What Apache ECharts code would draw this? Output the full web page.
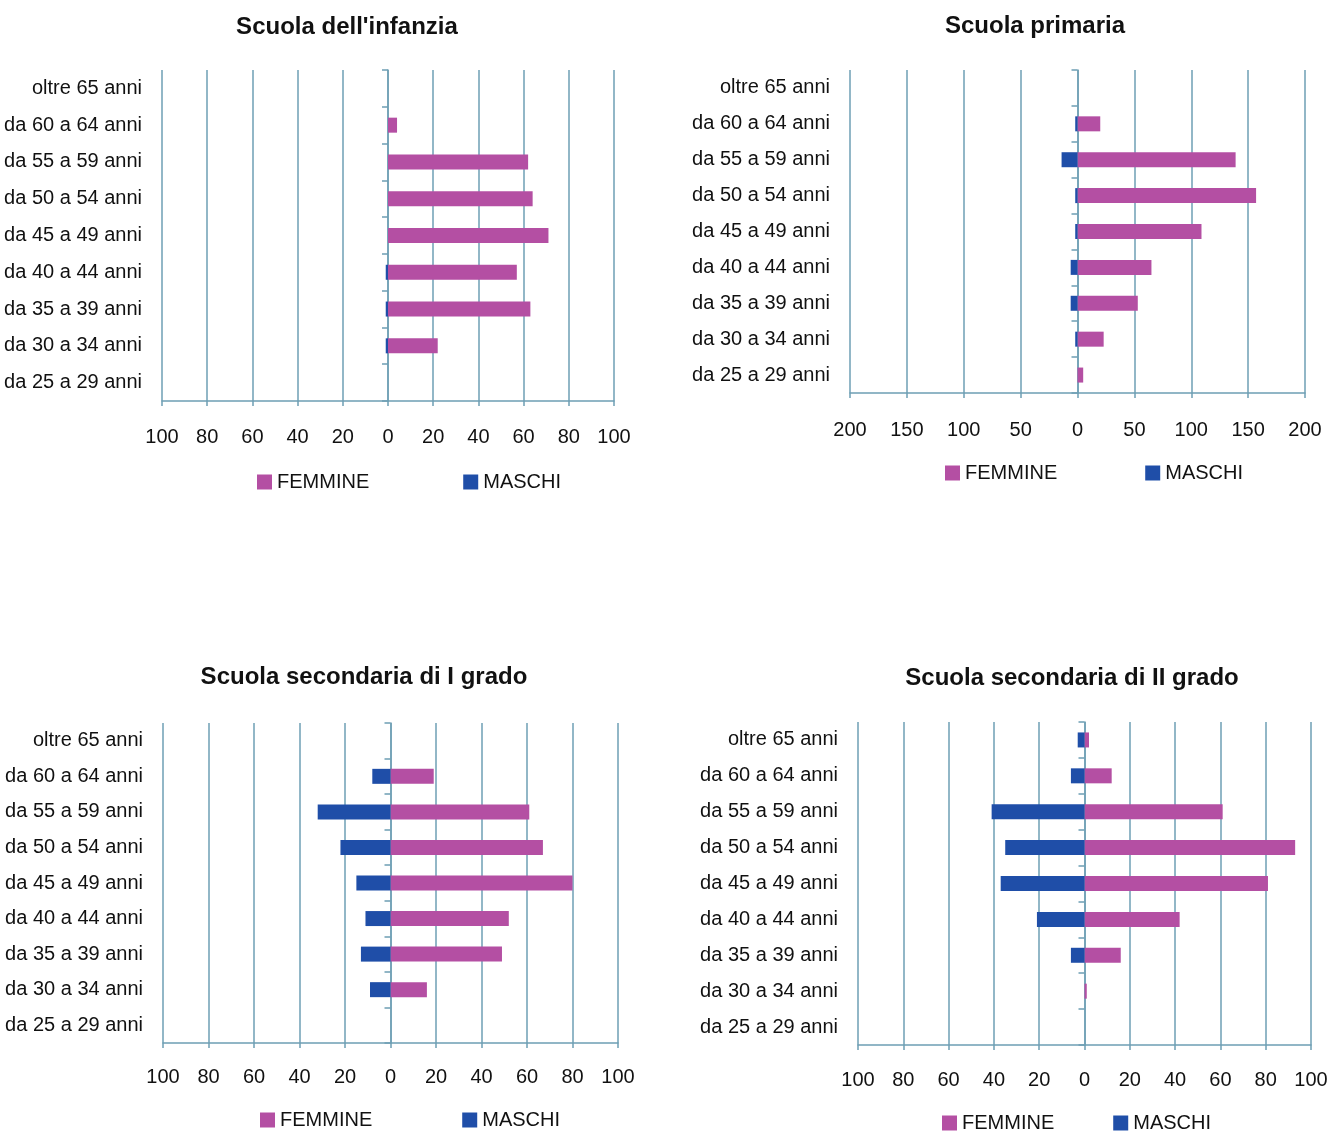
<!DOCTYPE html>
<html>
<head>
<meta charset="utf-8">
<title>Docenti per fascia d'età e sesso</title>
<script src="https://cdn.jsdelivr.net/npm/echarts@6/dist/echarts.min.js"></script>
<style>
  html, body { margin: 0; padding: 0; background: #ffffff; }
  #chart { width: 1338px; height: 1133px; }
</style>
</head>
<body>
<div id="chart"></div>
<script>
// Age bands, listed bottom to top as drawn on the category axis
const ageGroups = [
  'da 25 a 29 anni', 'da 30 a 34 anni', 'da 35 a 39 anni', 'da 40 a 44 anni',
  'da 45 a 49 anni', 'da 50 a 54 anni', 'da 55 a 59 anni', 'da 60 a 64 anni',
  'oltre 65 anni'
];

const panelTitles = [
  "Scuola dell'infanzia",
  'Scuola primaria',
  'Scuola secondaria di I grado',
  'Scuola secondaria di II grado'
];

const legendNames = ['FEMMINE', 'MASCHI'];

// Headcounts per age band (same order as ageGroups)
const infanziaFemmine   = [0, 22, 63, 57, 71, 64, 62, 4, 0];
const infanziaMaschi    = [0, 1, 1, 1, 0, 0, 0, 0, 0];
const primariaFemmine   = [5, 23, 53, 65, 109, 157, 139, 20, 0];
const primariaMaschi    = [0, 2, 6, 6, 2, 2, 14, 2, 0];
const secondoIFemmine   = [0, 16, 49, 52, 80, 67, 61, 19, 0];
const secondoIMaschi    = [0, 9, 13, 11, 15, 22, 32, 8, 0];
const secondoIIFemmine  = [0, 1, 16, 42, 81, 93, 61, 12, 2];
const secondoIIMaschi   = [0, 0, 6, 21, 37, 35, 41, 6, 3];

// Axis extent and tick step for each panel
const axisMax      = [100, 200, 100, 100];
const axisInterval = [20, 50, 20, 20];

const femmineSeries = [infanziaFemmine, primariaFemmine, secondoIFemmine, secondoIIFemmine];
const maschiSeries  = [infanziaMaschi, primariaMaschi, secondoIMaschi, secondoIIMaschi];

// Placement of each panel on the page
const layout = [
  { grid: { left: 162, top: 70,  width: 452, height: 331 }, titleX: 347,  titleY: 15,  legend: { left: 257, top: 472, gap: 94 }, labelMargin: 26 },
  { grid: { left: 850, top: 70,  width: 455, height: 323 }, titleX: 1035, titleY: 14,  legend: { left: 945, top: 463, gap: 88 }, labelMargin: 27 },
  { grid: { left: 163, top: 723, width: 455, height: 320 }, titleX: 364,  titleY: 665, legend: { left: 260, top: 1110, gap: 90 }, labelMargin: 24 },
  { grid: { left: 858, top: 722, width: 453, height: 323 }, titleX: 1072, titleY: 666, legend: { left: 942, top: 1113, gap: 59 }, labelMargin: 25 }
];

const FONT = '"Liberation Sans", Arial, sans-serif';
const PINK = '#b44fa3';
const BLUE = '#1f4ea8';
const GRID_LINE = '#6e9fb4';

const option = {
  backgroundColor: '#ffffff',
  animation: false,
  textStyle: { fontFamily: FONT },
  title: [],
  legend: [],
  grid: [],
  xAxis: [],
  yAxis: [],
  series: []
};

layout.forEach((p, i) => {
  option.title.push({
    text: panelTitles[i],
    left: p.titleX,
    top: p.titleY,
    textAlign: 'center',
    padding: 0,
    textStyle: { fontFamily: FONT, fontSize: 24, fontWeight: 'bold', color: '#111' }
  });

  option.legend.push({
    data: legendNames,
    left: p.legend.left,
    top: p.legend.top,
    padding: 0,
    itemWidth: 15,
    itemHeight: 15,
    itemGap: p.legend.gap,
    icon: 'rect',
    selectedMode: false,
    textStyle: { fontFamily: FONT, fontSize: 20, color: '#111', padding: [0, 0, 0, 0] }
  });

  option.grid.push(Object.assign({ containLabel: false }, p.grid));

  option.xAxis.push({
    gridIndex: i,
    type: 'value',
    min: -axisMax[i],
    max: axisMax[i],
    interval: axisInterval[i],
    axisLine: { show: true, onZero: false, lineStyle: { color: GRID_LINE, width: 1.5 } },
    axisTick: { show: true, length: 5, lineStyle: { color: GRID_LINE, width: 1.5 } },
    splitLine: { show: true, lineStyle: { color: GRID_LINE, width: 1.5 } },
    axisLabel: {
      formatter: v => String(Math.abs(v)),
      fontFamily: FONT,
      fontSize: 20,
      color: '#111',
      margin: p.labelMargin
    }
  });

  // Category labels on the left edge of the plot
  option.yAxis.push({
    gridIndex: i,
    type: 'category',
    data: ageGroups,
    position: 'left',
    axisLine: { show: false, onZero: false },
    axisTick: { show: false },
    splitLine: { show: false },
    axisLabel: { fontFamily: FONT, fontSize: 20, color: '#111', margin: 20 }
  });

  // Central spine with its tick marks, sitting on zero
  option.yAxis.push({
    gridIndex: i,
    type: 'category',
    data: ageGroups,
    position: 'left',
    axisLine: { show: true, onZero: true, onZeroAxisIndex: i, lineStyle: { color: GRID_LINE, width: 1.5 } },
    axisTick: { show: true, length: 6, lineStyle: { color: GRID_LINE, width: 1.5 } },
    axisLabel: { show: false },
    splitLine: { show: false }
  });

  option.series.push({
    name: legendNames[0],
    type: 'bar',
    xAxisIndex: i,
    yAxisIndex: 2 * i,
    data: femmineSeries[i],
    barWidth: 15,
    barGap: '-100%',
    itemStyle: { color: PINK },
    z: 3
  });

  option.series.push({
    name: legendNames[1],
    type: 'bar',
    xAxisIndex: i,
    yAxisIndex: 2 * i,
    data: maschiSeries[i].map(v => -v),
    barWidth: 15,
    barGap: '-100%',
    itemStyle: { color: BLUE },
    z: 3
  });
});

const chart = echarts.init(document.getElementById('chart'), null, { renderer: 'canvas' });
chart.setOption(option);
</script>
</body>
</html>
